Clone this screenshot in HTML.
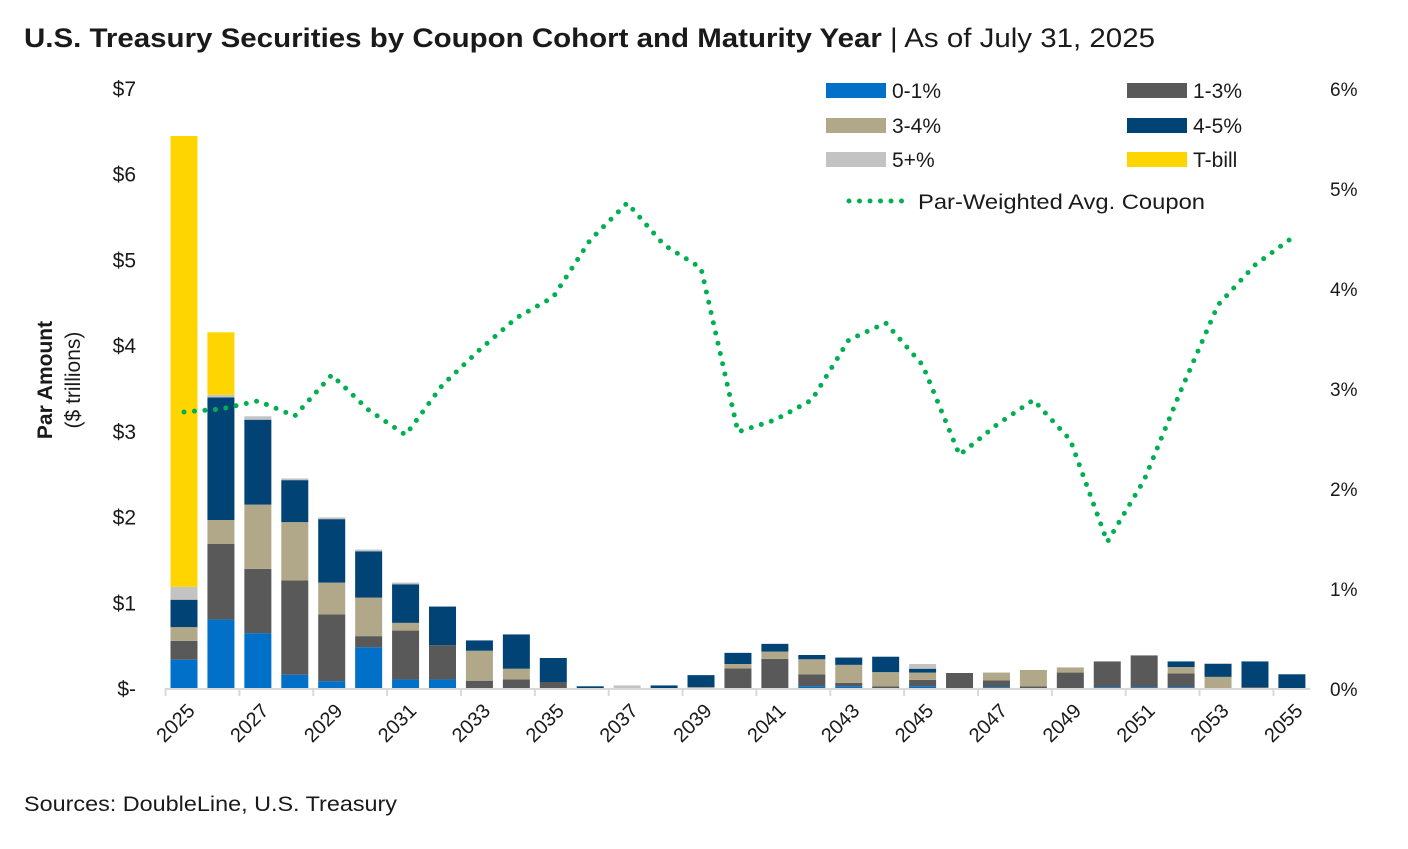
<!DOCTYPE html>
<html><head><meta charset="utf-8">
<style>
body{margin:0;background:#fff;font-family:"Liberation Sans",sans-serif;}
svg text{font-family:"Liberation Sans",sans-serif;fill:#1a1a1a;}
</style></head>
<body>
<svg id="chart" width="1408" height="844" viewBox="0 0 1408 844" xmlns="http://www.w3.org/2000/svg">
<text x="24" y="47" font-size="27" textLength="1131" lengthAdjust="spacingAndGlyphs"><tspan font-weight="bold">U.S. Treasury Securities by Coupon Cohort and Maturity Year</tspan><tspan> | As of July 31, 2025</tspan></text>
<g>
<text x="52" y="380" font-size="21" font-weight="bold" text-anchor="middle" transform="rotate(-90 52 380)">Par Amount</text>
<text x="80" y="380" font-size="21" text-anchor="middle" transform="rotate(-90 80 380)">($ trillions)</text>
</g>
<text x="24" y="811" font-size="21" textLength="373" lengthAdjust="spacingAndGlyphs">Sources: DoubleLine, U.S. Treasury</text>
<g id="leg"></g>
<g id="plot"></g>
</svg>
<script>
const years=[2025,2026,2027,2028,2029,2030,2031,2032,2033,2034,2035,2036,2037,2038,2039,2040,2041,2042,2043,2044,2045,2046,2047,2048,2049,2050,2051,2052,2053,2054,2055];
const s01=[0.33,0.80,0.64,0.155,0.08,0.475,0.10,0.10,0,0,0,0,0,0,0,0,0,0.02,0.02,0,0.02,0,0.01,0,0,0.01,0.01,0.01,0,0,0];
const s13=[0.22,0.88,0.75,1.10,0.78,0.13,0.57,0.40,0.085,0.10,0.07,0,0,0,0,0.23,0.34,0.14,0.04,0.02,0.075,0.175,0.08,0.02,0.18,0.30,0.37,0.16,0,0.01,0];
const s34=[0.16,0.28,0.75,0.68,0.37,0.45,0.09,0,0.35,0.125,0,0,0,0,0.01,0.05,0.085,0.175,0.21,0.165,0.085,0,0.09,0.19,0.06,0,0,0.075,0.13,0,0];
const s45=[0.32,1.43,0.99,0.49,0.74,0.54,0.45,0.45,0.12,0.40,0.28,0.02,0,0.03,0.14,0.13,0.09,0.05,0.085,0.18,0.045,0,0,0,0,0,0,0.065,0.15,0.30,0.16];
const s5p=[0.15,0.03,0.04,0.02,0.02,0.02,0.02,0,0,0,0,0,0.03,0,0,0,0,0,0,0,0.055,0,0,0,0,0,0,0,0.01,0,0];
const sTb=[5.26,0.73,0,0,0,0,0,0,0,0,0,0,0,0,0,0,0,0,0,0,0,0,0,0,0,0,0,0,0,0,0];
const coupon=[2.77,2.8,2.88,2.73,3.14,2.79,2.54,3.04,3.39,3.71,3.92,4.49,4.86,4.44,4.21,2.57,2.69,2.89,3.49,3.66,3.24,2.34,2.64,2.89,2.49,1.47,2.09,2.99,3.84,4.24,4.51];
const leftTicks=["$-","$1","$2","$3","$4","$5","$6","$7"];
const rightTicks=["0%","1%","2%","3%","4%","5%","6%"];
const NS="http://www.w3.org/2000/svg";
const plot=document.getElementById('plot'),leg=document.getElementById('leg');
const x0=184,dx=36.93,bw=27,base=688;
const xs=i=>x0+i*dx;
const yL=v=>base-v*(600/7);
const yR=v=>689-v*100;
function mk(tag,attrs,parent){const e=document.createElementNS(NS,tag);for(const k in attrs)e.setAttribute(k,attrs[k]);parent.appendChild(e);return e;}
leftTicks.forEach((t,i)=>{const e=mk('text',{x:136,y:yL(i)+8,'font-size':21,'text-anchor':'end'},plot);e.textContent=t;

});
rightTicks.forEach((t,i)=>{const e=mk('text',{x:1330,y:yR(i)+7,'font-size':19},plot);e.textContent=t;

});
const series=[[s01,'#0070c8','bar-0-1'],[s13,'#595959','bar-1-3'],[s34,'#b1a88a','bar-3-4'],[s45,'#014375','bar-4-5'],[s5p,'#c3c3c3','bar-5plus'],[sTb,'#ffd500','bar-tbill']];
years.forEach((y,i)=>{let cum=0;series.forEach(([arr,col,nm])=>{const v=arr[i];if(v>0){const r=mk('rect',{x:xs(i)-bw/2,y:yL(cum+v),width:bw,height:yL(cum)-yL(cum+v),fill:col},plot);

}cum+=v;});});
const ax=mk('line',{x1:xs(0)-dx/2,x2:xs(30)+dx/2,y1:base+1,y2:base+1,stroke:'#d9d9d9','stroke-width':2},plot);


years.forEach((y,i)=>{if(i%2===0){mk('line',{x1:xs(i)-dx/2,x2:xs(i)-dx/2,y1:base,y2:base+8,stroke:'#d9d9d9','stroke-width':2},plot);
const t=mk('text',{x:xs(i)+12,y:base+24,'font-size':20,'text-anchor':'end',transform:`rotate(-45 ${xs(i)+12} ${base+24})`},plot);t.textContent=y;

}});
const pts=coupon.map((c,i)=>xs(i).toFixed(1)+','+yR(c).toFixed(1)).join(' ');
const pl=mk('polyline',{points:pts,fill:'none',stroke:'#00b050','stroke-width':5,'stroke-linecap':'round','stroke-dasharray':'0 10.5'},plot);


const items=[['0-1%','#0070c8',826,90],['1-3%','#595959',1127,90],['3-4%','#b1a88a',826,125],['4-5%','#014375',1127,125],['5+%','#c3c3c3',826,159],['T-bill','#ffd500',1127,159]];
items.forEach(([lab,col,x,y])=>{const g=mk('g',{},leg);


mk('rect',{x:x,y:y-7,width:60,height:15,fill:col},g);const t=mk('text',{x:x+66,y:y+8,'font-size':21},g);t.textContent=lab;});
const g2=mk('g',{},leg);


mk('line',{x1:849,x2:904,y1:201,y2:201,stroke:'#00b050','stroke-width':5,'stroke-linecap':'round','stroke-dasharray':'0 10.5'},g2);
const t2=mk('text',{x:918,y:209,'font-size':21,textLength:287,lengthAdjust:'spacingAndGlyphs'},g2);t2.textContent='Par-Weighted Avg. Coupon';
</script>
</body></html>
